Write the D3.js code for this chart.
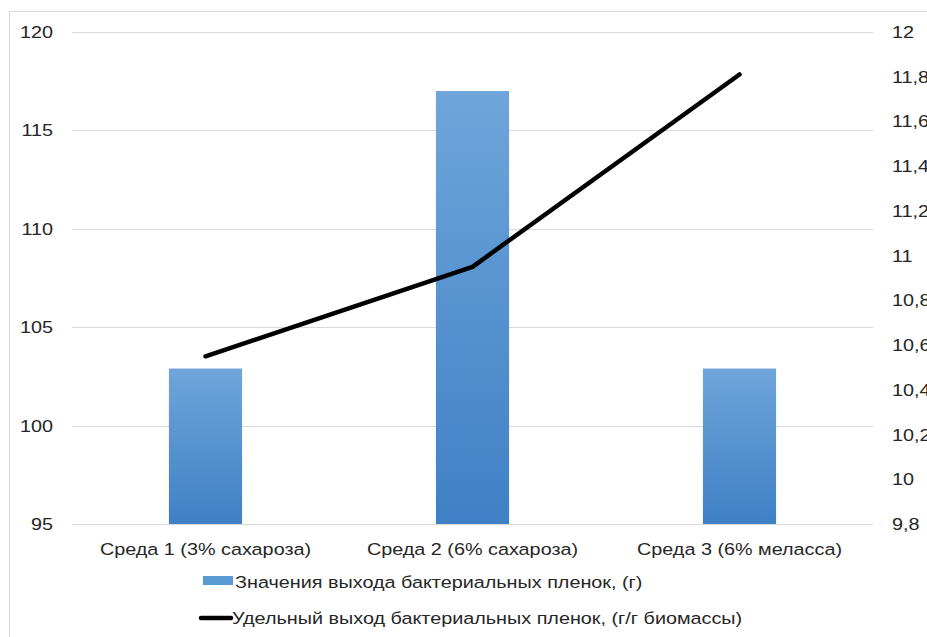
<!DOCTYPE html>
<html>
<head>
<meta charset="utf-8">
<script src="https://cdn.jsdelivr.net/npm/d3@7"></script>
<style>
  body { margin: 0; background: #fff; }
  svg text { font-family: "Liberation Sans", Arial, sans-serif; fill: #262626; }
</style>
</head>
<body>
<svg id="chart" width="927" height="637"></svg>
<script>
var categories = ['Среда 1 (3% сахароза)', 'Среда 2 (6% сахароза)', 'Среда 3 (6% меласса)'];
var yieldValues = [102.9, 117, 102.9];
var specificValues = [10.55, 10.95, 11.81];
var leftTicks = [95, 100, 105, 110, 115, 120];
var rightTicks = [9.8, 10, 10.2, 10.4, 10.6, 10.8, 11, 11.2, 11.4, 11.6, 11.8, 12];
var legendLabels = ['Значения выхода бактериальных пленок, (г)', 'Удельный выход бактериальных пленок, (г/г биомассы)'];

var svg = d3.select('#chart');
var sx = 1.2; // text in the picture is stretched sideways
var fs = '16.5px';

// outer frame
svg.append('rect')
  .attr('x', 9.5).attr('y', 11.5)
  .attr('width', 940).attr('height', 640)
  .attr('fill', 'none').attr('stroke', '#d9d9d9');

var plotL = 72, plotR = 873, plotT = 32, plotB = 524;

var x = d3.scaleBand().domain(categories).range([plotL, plotR]).padding(0);
var yL = d3.scaleLinear().domain([95, 120]).range([plotB, plotT]);
var yR = d3.scaleLinear().domain([9.8, 12]).range([plotB, plotT]);

var fmt = function (d) { return d3.format('~g')(d).replace('.', ','); };

// gridlines
svg.append('g').selectAll('line')
  .data(leftTicks)
  .enter().append('line')
  .attr('x1', plotL).attr('x2', plotR)
  .attr('y1', d => Math.round(yL(d)) + 0.5)
  .attr('y2', d => Math.round(yL(d)) + 0.5)
  .attr('stroke', '#d9d9d9').attr('stroke-width', 1);

// left axis labels
svg.append('g').selectAll('text')
  .data(leftTicks)
  .enter().append('text')
  .attr('transform', d => 'translate(53,' + (yL(d) + 6) + ') scale(' + sx + ',1)')
  .attr('text-anchor', 'end')
  .style('font-size', fs)
  .text(fmt);

// right axis labels
svg.append('g').selectAll('text')
  .data(rightTicks)
  .enter().append('text')
  .attr('transform', d => 'translate(892,' + (yR(d) + 6) + ') scale(' + sx + ',1)')
  .attr('text-anchor', 'start')
  .style('font-size', fs)
  .text(fmt);

// bar gradient
var defs = svg.append('defs');
var grad = defs.append('linearGradient')
  .attr('id', 'barGrad').attr('x1', 0).attr('y1', 0).attr('x2', 0).attr('y2', 1);
grad.append('stop').attr('offset', '0%').attr('stop-color', '#6fa5da');
grad.append('stop').attr('offset', '100%').attr('stop-color', '#3f80c6');

var barW = x.bandwidth() * 0.274;

svg.append('g').selectAll('rect')
  .data(yieldValues)
  .enter().append('rect')
  .attr('x', (d, i) => x(categories[i]) + x.bandwidth() / 2 - barW / 2)
  .attr('y', d => yL(d))
  .attr('width', barW)
  .attr('height', d => yL(95) - yL(d))
  .attr('fill', 'url(#barGrad)');

// line
var line = d3.line()
  .x((d, i) => x(categories[i]) + x.bandwidth() / 2)
  .y(d => yR(d));

svg.append('path')
  .datum(specificValues)
  .attr('d', line)
  .attr('fill', 'none')
  .attr('stroke', '#000')
  .attr('stroke-width', 4.5)
  .attr('stroke-linecap', 'round')
  .attr('stroke-linejoin', 'round');

// category labels
svg.append('g').selectAll('text')
  .data(categories)
  .enter().append('text')
  .attr('transform', d => 'translate(' + (x(d) + x.bandwidth() / 2) + ',555) scale(' + sx + ',1)')
  .attr('text-anchor', 'middle')
  .style('font-size', fs)
  .text(d => d);

// legend
var lg = svg.append('g');
lg.append('rect')
  .attr('x', 203).attr('y', 576).attr('width', 30).attr('height', 9)
  .attr('fill', '#5b9bd5');
lg.append('text')
  .attr('transform', 'translate(235,588) scale(' + sx + ',1)')
  .style('font-size', fs)
  .text(legendLabels[0]);
lg.append('line')
  .attr('x1', 201).attr('x2', 231).attr('y1', 618).attr('y2', 618)
  .attr('stroke', '#000').attr('stroke-width', 4.5).attr('stroke-linecap', 'round');
lg.append('text')
  .attr('transform', 'translate(232,624) scale(' + sx + ',1)')
  .style('font-size', fs)
  .text(legendLabels[1]);
</script>
</body>
</html>
